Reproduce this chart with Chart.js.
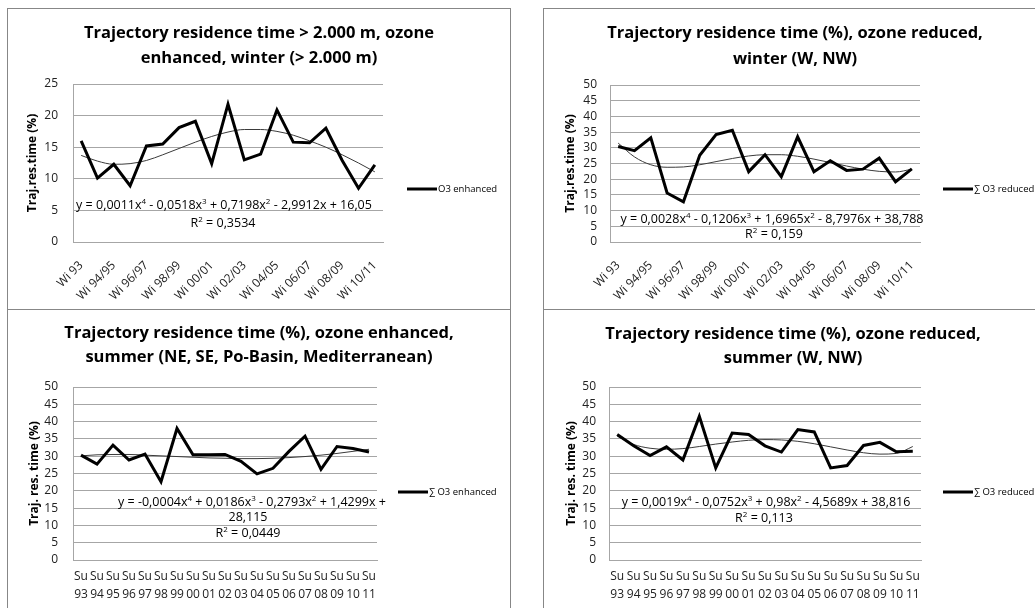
<!DOCTYPE html>
<html>
<head>
<meta charset="utf-8">
<script src="https://cdn.jsdelivr.net/npm/chart.js@4"></script>
<style>
  body { margin: 0; background: #fff; width: 1035px; height: 608px; overflow: hidden; position: relative; }
  .panel { position: absolute; box-sizing: border-box; border: 1px solid #878787; }
  canvas { position: absolute; }
</style>
</head>
<body>
<div class="panel" style="left:7px;top:8px;width:504px;height:302px"></div>
<div class="panel" style="left:543px;top:8px;width:500px;height:302px"></div>
<div class="panel" style="left:7px;top:309px;width:504px;height:310px"></div>
<div class="panel" style="left:543px;top:309px;width:500px;height:310px"></div>
<canvas id="tl" width="504" height="302" style="left:7px;top:8px"></canvas>
<canvas id="tr" width="492" height="302" style="left:543px;top:8px"></canvas>
<canvas id="bl" width="504" height="299" style="left:7px;top:309px"></canvas>
<canvas id="br" width="492" height="299" style="left:543px;top:309px"></canvas>
<script>
'use strict'

const FONT = '"Open Sans", "Noto Sans", sans-serif'
const GRID = '#a6a6a6'

const winterLabels = ['Wi 93', 'Wi 93/94', 'Wi 94/95', 'Wi 95/96', 'Wi 96/97', 'Wi 97/98',
  'Wi 98/99', 'Wi 99/00', 'Wi 00/01', 'Wi 01/02', 'Wi 02/03', 'Wi 03/04', 'Wi 04/05',
  'Wi 05/06', 'Wi 06/07', 'Wi 07/08', 'Wi 08/09', 'Wi 09/10', 'Wi 10/11']
const summerLabels = [['Su', '93'], ['Su', '94'], ['Su', '95'], ['Su', '96'], ['Su', '97'],
  ['Su', '98'], ['Su', '99'], ['Su', '00'], ['Su', '01'], ['Su', '02'], ['Su', '03'],
  ['Su', '04'], ['Su', '05'], ['Su', '06'], ['Su', '07'], ['Su', '08'], ['Su', '09'],
  ['Su', '10'], ['Su', '11']]

// winter, ozone enhanced (> 2.000 m)
const winterEnhanced = [16.0, 10.1, 12.3, 8.9, 15.2, 15.5, 18.1, 19.1, 12.4, 21.8,
  13.0, 13.9, 20.9, 15.8, 15.7, 18.0, 12.9, 8.5, 12.2]
const winterEnhancedTrend = [13.7, 12.8, 12.3, 12.4, 12.9, 13.8, 14.8, 15.8, 16.7, 17.4,
  17.8, 17.8, 17.5, 16.9, 16.0, 15.0, 13.8, 12.5, 11.1]

// winter, ozone reduced (W, NW)
const winterReduced = [30.4, 29.1, 33.2, 15.6, 12.8, 27.6, 34.2, 35.6, 22.4, 27.8,
  20.8, 33.5, 22.4, 25.9, 22.8, 23.2, 26.7, 19.2, 23.3]
const winterReducedTrend = [31.5, 27.1, 24.6, 23.8, 23.9, 24.6, 25.6, 26.6, 27.4, 27.8,
  27.8, 27.3, 26.4, 25.3, 24.2, 23.2, 22.5, 22.3, 23.2]

// summer, ozone enhanced (NE, SE, Po-Basin, Mediterranean)
const summerEnhanced = [30.3, 27.7, 33.2, 28.9, 30.6, 22.6, 38.0, 30.4, 30.4, 30.5,
  28.5, 24.9, 26.5, 31.4, 35.8, 26.2, 32.8, 32.2, 31.2]
const summerEnhancedTrend = [30.1, 30.4, 30.5, 30.5, 30.3, 30.1, 29.9, 29.7, 29.5, 29.4,
  29.3, 29.3, 29.4, 29.6, 29.9, 30.3, 30.8, 31.4, 32.0]

// summer, ozone reduced (W, NW)
const summerReduced = [36.3, 33.0, 30.2, 32.7, 28.9, 41.5, 26.6, 36.7, 36.3, 33.0,
  31.2, 37.7, 37.0, 26.6, 27.3, 33.1, 34.0, 31.3, 31.4]
const summerReducedTrend = [35.8, 33.4, 32.3, 32.0, 32.2, 32.8, 33.5, 34.1, 34.6, 34.8,
  34.7, 34.3, 33.6, 32.7, 31.8, 31.0, 30.6, 30.8, 32.8]

// text with ^n superscripts, centred on x
function drawRich(ctx, text, x, y, size) {
  const parts = []
  let buf = ''
  for (let i = 0; i < text.length; i++) {
    if (text[i] === '^') {
      if (buf) parts.push({ t: buf, sup: false })
      parts.push({ t: text[i + 1], sup: true })
      buf = ''
      i++
    } else buf += text[i]
  }
  if (buf) parts.push({ t: buf, sup: false })

  const fontFor = p => `${p.sup ? Math.round(size * 0.65) : size}px ${FONT}`
  let total = 0
  parts.forEach(p => {
    ctx.font = fontFor(p)
    p.w = ctx.measureText(p.t).width
    total += p.w
  })
  let cx = x - total / 2
  ctx.textAlign = 'left'
  parts.forEach(p => {
    ctx.font = fontFor(p)
    ctx.fillText(p.t, cx, p.sup ? y - size * 0.3 : y)
    cx += p.w
  })
}

const panelText = {
  id: 'panelText',
  afterDraw(chart, args, opts) {
    const ctx = chart.ctx
    ctx.save()
    ctx.fillStyle = '#000'
    ctx.textBaseline = 'middle'

    ctx.textAlign = 'center'
    ctx.font = `bold ${opts.titleSize}px ${FONT}`
    opts.title.forEach((line, i) =>
      ctx.fillText(line, chart.width / 2 + opts.titleDx, opts.titleY[i]))

    const lg = opts.legend
    ctx.strokeStyle = '#000'
    ctx.lineWidth = 3
    ctx.beginPath()
    ctx.moveTo(lg.x, lg.y)
    ctx.lineTo(lg.x + 30, lg.y)
    ctx.stroke()
    ctx.font = `9.5px ${FONT}`
    ctx.textAlign = 'left'
    ctx.fillText(lg.text, lg.x + 31, lg.y)

    opts.eq.forEach(e => drawRich(ctx, e.text, e.x, e.y, 12.5))
    ctx.restore()
  }
}

function makeChart(id, cfg) {
  const rotated = !Array.isArray(cfg.labels[0])

  return new Chart(document.getElementById(id), {
    type: 'line',
    data: {
      labels: cfg.labels,
      datasets: [
        {
          label: cfg.name,
          data: cfg.values,
          borderColor: '#000',
          borderWidth: 3,
          pointRadius: 0,
          tension: 0
        },
        {
          label: 'Poly. trend',
          data: cfg.trend,
          borderColor: '#3a3a3a',
          borderWidth: 1,
          pointRadius: 0,
          cubicInterpolationMode: 'monotone'
        }
      ]
    },
    options: {
      responsive: false,
      animation: false,
      layout: { padding: cfg.padding },
      plugins: {
        legend: { display: false },
        tooltip: { enabled: false },
        panelText: cfg.text
      },
      scales: {
        x: {
          offset: true,
          grid: { display: false, drawTicks: false },
          border: { color: GRID },
          ticks: {
            autoSkip: false,
            maxRotation: rotated ? 45 : 0,
            minRotation: rotated ? 45 : 0,
            padding: cfg.xPad,
            color: '#222',
            font: { family: FONT, size: 12, lineHeight: 1.5 },
            callback: function (v, i) {
              if (rotated && i % 2) return null
              return this.getLabelForValue(v)
            }
          },
          afterFit: s => { s.height = cfg.xHeight }
        },
        y: {
          min: 0,
          max: cfg.yMax,
          ticks: {
            stepSize: 5,
            maxTicksLimit: 11,
            padding: cfg.yPad,
            color: '#222',
            font: { family: FONT, size: 12, lineHeight: 1 }
          },
          grid: { color: GRID, drawTicks: false },
          border: { color: GRID },
          title: {
            display: true,
            text: cfg.yTitle,
            color: '#000',
            padding: { top: 4, bottom: 4 },
            font: { family: FONT, size: 12, weight: 'bold' }
          },
          afterFit: s => { s.width = cfg.yWidth }
        }
      }
    },
    plugins: [panelText]
  })
}

makeChart('tl', {
  labels: winterLabels,
  name: 'O3 enhanced',
  values: winterEnhanced,
  trend: winterEnhancedTrend,
  yMax: 25,
  yTitle: 'Traj.res.time (%)',
  padding: { left: 14, right: 128, top: 76, bottom: 0 },
  yWidth: 52, yPad: 15, xHeight: 68, xPad: 15,
  text: {
    title: ['Trajectory residence time > 2.000 m, ozone', 'enhanced, winter (> 2.000 m)'],
    titleY: [25, 50], titleSize: 16.5, titleDx: 0,
    legend: { text: 'O3 enhanced', x: 400, y: 181 },
    eq: [
      { text: 'y = 0,0011x^4 - 0,0518x^3 + 0,7198x^2 - 2,9912x + 16,05', x: 217, y: 197 },
      { text: 'R^2 = 0,3534', x: 216, y: 215 }
    ]
  }
})

makeChart('tr', {
  labels: winterLabels,
  name: '∑ O3 reduced',
  values: winterReduced,
  trend: winterReducedTrend,
  yMax: 50,
  yTitle: 'Traj.res.time (%)',
  padding: { left: 16, right: 115, top: 77, bottom: 0 },
  yWidth: 51, yPad: 13, xHeight: 68, xPad: 15,
  text: {
    title: ['Trajectory residence time (%), ozone reduced,', 'winter (W, NW)'],
    titleY: [25, 51], titleSize: 16.5, titleDx: 6,
    legend: { text: '∑ O3 reduced', x: 400, y: 181 },
    eq: [
      { text: 'y = 0,0028x^4 - 0,1206x^3 + 1,6965x^2 - 8,7976x + 38,788', x: 229, y: 211 },
      { text: 'R^2 = 0,159', x: 231, y: 226 }
    ]
  }
})

makeChart('bl', {
  labels: summerLabels,
  name: '∑ O3 enhanced',
  values: summerEnhanced,
  trend: summerEnhancedTrend,
  yMax: 50,
  yTitle: 'Traj. res. time (%)',
  padding: { left: 16, right: 134, top: 78, bottom: 0 },
  yWidth: 50, yPad: 15, xHeight: 48, xPad: 8,
  text: {
    title: ['Trajectory residence time (%), ozone enhanced,', 'summer (NE, SE, Po-Basin, Mediterranean)'],
    titleY: [24, 48], titleSize: 16.5, titleDx: 0,
    legend: { text: '∑ O3 enhanced', x: 391, y: 183 },
    eq: [
      { text: 'y = -0,0004x^4 + 0,0186x^3 - 0,2793x^2 + 1,4299x +', x: 245, y: 193 },
      { text: '28,115', x: 241, y: 208 },
      { text: 'R^2 = 0,0449', x: 241, y: 224 }
    ]
  }
})

makeChart('br', {
  labels: summerLabels,
  name: '∑ O3 reduced',
  values: summerReduced,
  trend: summerReducedTrend,
  yMax: 50,
  yTitle: 'Traj. res. time (%)',
  padding: { left: 17, right: 114, top: 78, bottom: 0 },
  yWidth: 49, yPad: 13, xHeight: 48, xPad: 8,
  text: {
    title: ['Trajectory residence time (%), ozone reduced,', 'summer (W, NW)'],
    titleY: [25, 49], titleSize: 16.5, titleDx: 4,
    legend: { text: '∑ O3 reduced', x: 400, y: 183 },
    eq: [
      { text: 'y = 0,0019x^4 - 0,0752x^3 + 0,98x^2 - 4,5689x + 38,816', x: 223, y: 193 },
      { text: 'R^2 = 0,113', x: 221, y: 209 }
    ]
  }
})
</script>
</body>
</html>
